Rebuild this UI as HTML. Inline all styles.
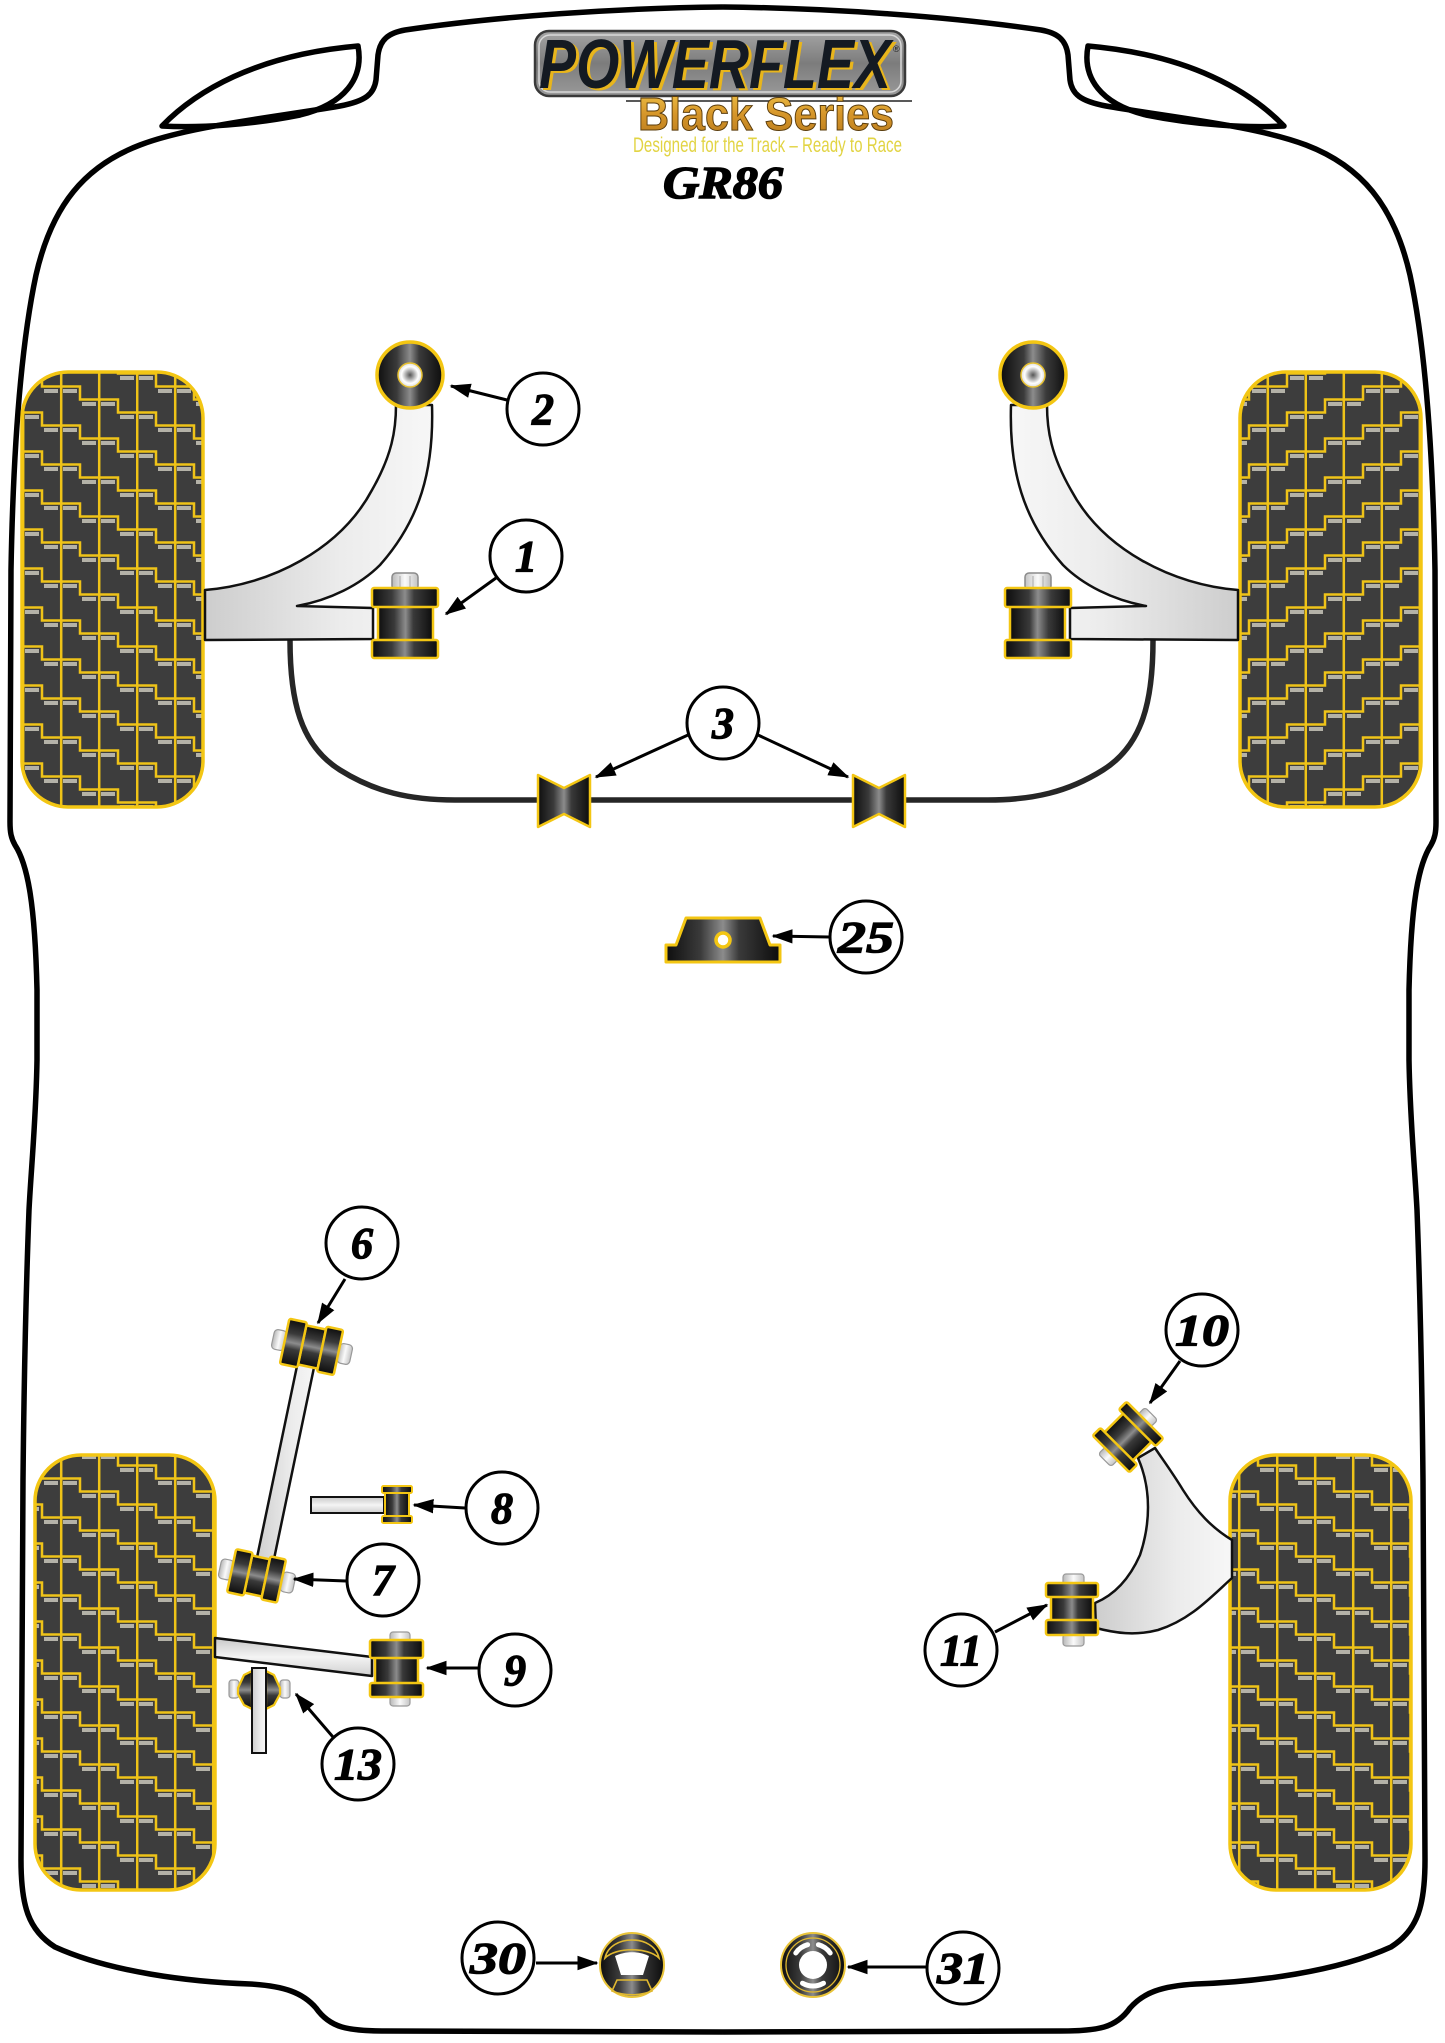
<!DOCTYPE html>
<html><head><meta charset="utf-8"><style>
html,body{margin:0;padding:0;background:#fff;}
svg{display:block;}
.n{font-family:"Liberation Serif",serif;font-weight:bold;font-style:italic;font-size:44px;text-anchor:middle;fill:#000;stroke:#000;stroke-width:1.2;}
</style></head><body>
<svg width="1445" height="2043" viewBox="0 0 1445 2043" xmlns="http://www.w3.org/2000/svg">
<defs>
<pattern id="tread" width="114" height="39" patternUnits="userSpaceOnUse" x="22" y="372">
<rect width="114" height="39" fill="#3d3d3d"/>
<g fill="#b4b2a8">
<rect x="3" y="4" width="14" height="4"/>
<rect x="22" y="17" width="14" height="4"/>
<rect x="41" y="17" width="14" height="4"/>
<rect x="60" y="30" width="14" height="4"/>
<rect x="79" y="30" width="14" height="4"/>
<rect x="98" y="4" width="14" height="4"/>
</g>
<path d="M1.2,0 V39 M39.2,0 V39 M77.2,0 V39 M0,1.5 H20 V14.5 H38 M38,14.5 H58 V27.5 H76 M76,27.5 H96 V39 M96,0 V1.5 H114" stroke="#efc318" stroke-width="2.5" fill="none"/>
</pattern>
<linearGradient id="rub" x1="0" y1="0" x2="1" y2="0">
<stop offset="0" stop-color="#0e0e0e"/><stop offset="0.3" stop-color="#3a3a3a"/><stop offset="0.5" stop-color="#8c8c8c"/><stop offset="0.64" stop-color="#3a3a3a"/><stop offset="1" stop-color="#0c0c0c"/>
</linearGradient>
<linearGradient id="rubV" x1="0" y1="0" x2="0" y2="1">
<stop offset="0" stop-color="#0e0e0e"/><stop offset="0.3" stop-color="#3a3a3a"/><stop offset="0.5" stop-color="#8c8c8c"/><stop offset="0.64" stop-color="#3a3a3a"/><stop offset="1" stop-color="#0c0c0c"/>
</linearGradient>
<linearGradient id="arm" x1="0" y1="0" x2="1" y2="0">
<stop offset="0" stop-color="#cdcdcd"/><stop offset="0.6" stop-color="#ececec"/><stop offset="1" stop-color="#f7f7f7"/>
</linearGradient>
<linearGradient id="armV" x1="0" y1="0" x2="0" y2="1">
<stop offset="0" stop-color="#c8c8c8"/><stop offset="0.5" stop-color="#f4f4f4"/><stop offset="1" stop-color="#cfcfcf"/>
</linearGradient>
<linearGradient id="bolt" x1="0" y1="0" x2="1" y2="0">
<stop offset="0" stop-color="#b8b8b8"/><stop offset="0.5" stop-color="#fafafa"/><stop offset="1" stop-color="#c4c4c4"/>
</linearGradient>
<radialGradient id="hole" cx="0.5" cy="0.5" r="0.5">
<stop offset="0" stop-color="#555"/><stop offset="0.35" stop-color="#aaa"/><stop offset="0.7" stop-color="#fff"/><stop offset="1" stop-color="#ddd"/>
</radialGradient>
<linearGradient id="logoG" x1="0" y1="0" x2="0" y2="1">
<stop offset="0" stop-color="#a5a5a5"/><stop offset="0.5" stop-color="#7c7c7c"/><stop offset="1" stop-color="#9a9a9a"/>
</linearGradient>
<linearGradient id="gold" x1="0" y1="0" x2="0" y2="1">
<stop offset="0" stop-color="#f2c64a"/><stop offset="0.5" stop-color="#d6962a"/><stop offset="1" stop-color="#b87a1c"/>
</linearGradient>
<marker id="ah" markerWidth="7" markerHeight="6" refX="6.5" refY="3" orient="auto" markerUnits="strokeWidth">
<path d="M0,0.6 L7,3 L0,5.4 Z" fill="#000"/>
</marker>
</defs>

<!-- body outline -->
<g fill="none" stroke="#000" stroke-width="5.5" stroke-linejoin="round">
<path d="M723,7 C620,8 500,16 405,30 C388,33 380,40 378,55 L376,80 C374,94 366,101 340,106 C270,118 190,126 140,145 C85,166 52,205 36,275 C20,350 13,460 11,570 L10,822 C10,832 11,838 15,845 C28,865 35,905 37,990 L37,1060 C36,1120 31,1170 29,1210 C26,1290 24,1380 23,1480 L21,1860 C21,1905 28,1930 55,1947 C110,1972 190,1982 250,1984 C285,1986 303,1993 316,2008 C330,2028 348,2031 385,2031 L723,2032"/>
<path d="M162,126 C195,92 255,55 358,46 C364,78 345,104 300,115 C250,125 200,128 162,126 Z"/>
<g transform="translate(1446,0) scale(-1,1)">
<path d="M723,7 C620,8 500,16 405,30 C388,33 380,40 378,55 L376,80 C374,94 366,101 340,106 C270,118 190,126 140,145 C85,166 52,205 36,275 C20,350 13,460 11,570 L10,822 C10,832 11,838 15,845 C28,865 35,905 37,990 L37,1060 C36,1120 31,1170 29,1210 C26,1290 24,1380 23,1480 L21,1860 C21,1905 28,1930 55,1947 C110,1972 190,1982 250,1984 C285,1986 303,1993 316,2008 C330,2028 348,2031 385,2031 L723,2032"/>
<path d="M162,126 C195,92 255,55 358,46 C364,78 345,104 300,115 C250,125 200,128 162,126 Z"/>
</g>
</g>

<!-- logo -->
<rect x="535" y="31" width="370" height="65" rx="14" fill="url(#logoG)" stroke="#3a3a3a" stroke-width="2.5"/>
<rect x="539" y="35" width="362" height="57" rx="11" fill="none" stroke="#d8d8d8" stroke-width="1.5"/>
<text x="542" y="90" font-family="Liberation Sans, sans-serif" font-weight="bold" font-style="italic" font-size="70" textLength="352" lengthAdjust="spacingAndGlyphs" fill="#e8b51c">POWERFLEX</text>
<text x="539" y="88" font-family="Liberation Sans, sans-serif" font-weight="bold" font-style="italic" font-size="70" textLength="352" lengthAdjust="spacingAndGlyphs" fill="#141a22">POWERFLEX</text>
<text x="893" y="52" font-family="Liberation Sans, sans-serif" font-size="9" fill="#222">®</text>
<line x1="626" y1="101" x2="912" y2="101" stroke="#222" stroke-width="1.5"/>
<text x="638" y="130" font-family="Liberation Sans, sans-serif" font-weight="bold" font-size="46" textLength="256" lengthAdjust="spacingAndGlyphs" fill="url(#gold)" stroke="#5a3c0c" stroke-width="1">Black Series</text>
<text x="633" y="152" font-family="Liberation Sans Narrow, Liberation Sans, sans-serif" font-size="21" textLength="269" lengthAdjust="spacingAndGlyphs" fill="#e2d444">Designed for the Track – Ready to Race</text>
<text x="663" y="198" font-family="Liberation Serif, serif" font-weight="bold" font-style="italic" font-size="46" textLength="120" lengthAdjust="spacingAndGlyphs" fill="#000" stroke="#000" stroke-width="1.5">GR86</text>

<!-- front sway bar -->
<path d="M290,640 C290,700 300,745 340,770 C375,792 410,800 455,800 L988,800 C1033,800 1068,792 1103,770 C1143,745 1153,700 1153,640" fill="none" stroke="#262626" stroke-width="5.5"/>
<path d="M538,775 L564,788 L590,775 L590,827 L564,814 L538,827 Z" fill="url(#rub)" stroke="#f3c613" stroke-width="2.5" stroke-linejoin="round"/>
<path d="M853,775 L879,788 L905,775 L905,827 L879,814 L853,827 Z" fill="url(#rub)" stroke="#f3c613" stroke-width="2.5" stroke-linejoin="round"/>

<!-- front left suspension -->
<g>
<rect x="22" y="372" width="181" height="435" rx="46" fill="url(#tread)" stroke="#f3c613" stroke-width="3.5"/>
<path d="M205,590 C270,585 340,550 372,490 C392,455 396,430 396,405 L432,405 C434,470 420,520 380,565 C360,585 330,600 297,606 L373,608 L373,639 L205,640 Z" fill="url(#arm)" stroke="#111" stroke-width="2.5" stroke-linejoin="round"/>
<circle cx="410" cy="375" r="33" fill="url(#rub)" stroke="#f3c613" stroke-width="3.5"/>
<circle cx="410" cy="375" r="12" fill="url(#hole)" stroke="#e6c030" stroke-width="1.5"/>
<rect x="392" y="573" width="26" height="17" rx="4" fill="url(#bolt)" stroke="#8a8a8a" stroke-width="1.5"/>
<path d="M400,576 V589 M410,576 V589" stroke="#aaa" stroke-width="1"/>
<rect x="378" y="606" width="55" height="35" fill="url(#rub)" stroke="#f3c613" stroke-width="2.5"/>
<rect x="372" y="588" width="66" height="19" rx="2" fill="url(#rub)" stroke="#f3c613" stroke-width="2.5"/>
<rect x="372" y="640" width="66" height="18" rx="2" fill="url(#rub)" stroke="#f3c613" stroke-width="2.5"/>
</g>
<g transform="translate(1443,0) scale(-1,1)">
<rect x="22" y="372" width="181" height="435" rx="46" fill="url(#tread)" stroke="#f3c613" stroke-width="3.5"/>
<path d="M205,590 C270,585 340,550 372,490 C392,455 396,430 396,405 L432,405 C434,470 420,520 380,565 C360,585 330,600 297,606 L373,608 L373,639 L205,640 Z" fill="url(#arm)" stroke="#111" stroke-width="2.5" stroke-linejoin="round"/>
<circle cx="410" cy="375" r="33" fill="url(#rub)" stroke="#f3c613" stroke-width="3.5"/>
<circle cx="410" cy="375" r="12" fill="url(#hole)" stroke="#e6c030" stroke-width="1.5"/>
<rect x="392" y="573" width="26" height="17" rx="4" fill="url(#bolt)" stroke="#8a8a8a" stroke-width="1.5"/>
<path d="M400,576 V589 M410,576 V589" stroke="#aaa" stroke-width="1"/>
<rect x="378" y="606" width="55" height="35" fill="url(#rub)" stroke="#f3c613" stroke-width="2.5"/>
<rect x="372" y="588" width="66" height="19" rx="2" fill="url(#rub)" stroke="#f3c613" stroke-width="2.5"/>
<rect x="372" y="640" width="66" height="18" rx="2" fill="url(#rub)" stroke="#f3c613" stroke-width="2.5"/>
</g>

<!-- bush 25 -->
<path d="M686,918 L760,918 L770,945 L780,945 L780,962 L666,962 L666,945 L676,945 Z" fill="url(#rub)" stroke="#f3c613" stroke-width="3" stroke-linejoin="round"/>
<circle cx="723" cy="940" r="7" fill="#fff" stroke="#f3c613" stroke-width="3.5"/>

<!-- rear wheels -->
<rect x="35" y="1455" width="180" height="435" rx="46" fill="url(#tread)" stroke="#f3c613" stroke-width="3.5"/>
<rect x="1230" y="1455" width="181" height="435" rx="46" fill="url(#tread)" stroke="#f3c613" stroke-width="3.5"/>

<!-- rod 8 -->
<rect x="311" y="1497" width="73" height="16" fill="url(#armV)" stroke="#111" stroke-width="2"/>
<rect x="385" y="1492" width="24" height="25" fill="url(#rub)" stroke="#f3c613" stroke-width="2"/>
<rect x="382" y="1486" width="30" height="7" rx="1.5" fill="url(#rub)" stroke="#f3c613" stroke-width="2"/>
<rect x="382" y="1516" width="30" height="7" rx="1.5" fill="url(#rub)" stroke="#f3c613" stroke-width="2"/>

<!-- rod 9 -->
<path d="M215,1638 L372,1657 L372,1676 L215,1657 Z" fill="url(#armV)" stroke="#111" stroke-width="2.5" stroke-linejoin="round"/>
<rect x="390" y="1632" width="20" height="10" rx="3" fill="url(#bolt)" stroke="#999" stroke-width="1.2"/>
<rect x="390" y="1696" width="20" height="10" rx="3" fill="url(#bolt)" stroke="#999" stroke-width="1.2"/>
<rect x="375" y="1657" width="43" height="27" fill="url(#rub)" stroke="#f3c613" stroke-width="2.5"/>
<rect x="370" y="1640" width="53" height="18" rx="2" fill="url(#rub)" stroke="#f3c613" stroke-width="2.5"/>
<rect x="370" y="1683" width="53" height="14" rx="2" fill="url(#rub)" stroke="#f3c613" stroke-width="2.5"/>

<!-- bush 13 -->
<rect x="229" y="1680" width="10" height="18" rx="3" fill="url(#bolt)" stroke="#999" stroke-width="1.2"/>
<rect x="280" y="1680" width="10" height="18" rx="3" fill="url(#bolt)" stroke="#999" stroke-width="1.2"/>
<path d="M252,1671 L244,1675 L238,1688 L238,1694 L244,1705 L252,1709 Z" fill="url(#rubV)" stroke="#f3c613" stroke-width="2.2" stroke-linejoin="round"/>
<path d="M266,1671 L274,1675 L280,1688 L280,1694 L274,1705 L266,1709 Z" fill="url(#rubV)" stroke="#f3c613" stroke-width="2.2" stroke-linejoin="round"/>
<rect x="252" y="1668" width="14" height="85" fill="url(#arm)" stroke="#111" stroke-width="2"/>

<!-- link rod 6-7 -->
<path d="M300.7,1348.3 L317.3,1351.7 L270.3,1576.7 L253.7,1573.3 Z" fill="url(#arm)" stroke="#111" stroke-width="2.5" stroke-linejoin="round"/>
<g transform="translate(312,1347) rotate(12)">
<rect x="-40" y="-10" width="13" height="20" rx="4" fill="url(#bolt)" stroke="#999" stroke-width="1.2"/>
<rect x="27" y="-10" width="13" height="20" rx="4" fill="url(#bolt)" stroke="#999" stroke-width="1.2"/>
<rect x="-10" y="-20" width="20" height="40" fill="url(#rubV)" stroke="#f3c613" stroke-width="2.5"/>
<rect x="-28" y="-23" width="18" height="46" rx="2" fill="url(#rubV)" stroke="#f3c613" stroke-width="2.5"/>
<rect x="10" y="-23" width="17" height="46" rx="2" fill="url(#rubV)" stroke="#f3c613" stroke-width="2.5"/>
</g>
<g transform="translate(257,1576) rotate(12)">
<rect x="-38" y="-10" width="13" height="20" rx="4" fill="url(#bolt)" stroke="#999" stroke-width="1.2"/>
<rect x="25" y="-10" width="13" height="20" rx="4" fill="url(#bolt)" stroke="#999" stroke-width="1.2"/>
<rect x="-9" y="-19" width="18" height="38" fill="url(#rubV)" stroke="#f3c613" stroke-width="2.5"/>
<rect x="-26" y="-22" width="17" height="44" rx="2" fill="url(#rubV)" stroke="#f3c613" stroke-width="2.5"/>
<rect x="9" y="-22" width="16" height="44" rx="2" fill="url(#rubV)" stroke="#f3c613" stroke-width="2.5"/>
</g>

<!-- rear right arm -->
<path d="M1138,1458 C1152,1490 1150,1525 1140,1555 C1128,1582 1112,1596 1095,1603 L1096,1628 C1115,1633 1135,1636 1158,1630 C1190,1620 1210,1598 1232,1578 L1232,1540 C1212,1528 1197,1512 1183,1490 C1172,1472 1163,1460 1155,1448 Z" fill="url(#arm)" stroke="#111" stroke-width="2.5" stroke-linejoin="round"/>
<g transform="translate(1128,1437) rotate(45)">
<rect x="-9" y="-33" width="18" height="10" rx="3" fill="url(#bolt)" stroke="#999" stroke-width="1.2"/>
<rect x="-9" y="23" width="18" height="10" rx="3" fill="url(#bolt)" stroke="#999" stroke-width="1.2"/>
<rect x="-20" y="-14" width="40" height="28" fill="url(#rub)" stroke="#f3c613" stroke-width="2.5"/>
<rect x="-26" y="-24" width="52" height="11" rx="2" fill="url(#rub)" stroke="#f3c613" stroke-width="2.5"/>
<rect x="-26" y="13" width="52" height="11" rx="2" fill="url(#rub)" stroke="#f3c613" stroke-width="2.5"/>
</g>
<rect x="1063" y="1574" width="21" height="11" rx="3" fill="url(#bolt)" stroke="#999" stroke-width="1.2"/>
<rect x="1063" y="1634" width="21" height="12" rx="3" fill="url(#bolt)" stroke="#999" stroke-width="1.2"/>
<rect x="1051" y="1596" width="42" height="25" fill="url(#rub)" stroke="#f3c613" stroke-width="2.5"/>
<rect x="1046" y="1583" width="52" height="14" rx="2" fill="url(#rub)" stroke="#f3c613" stroke-width="2.5"/>
<rect x="1046" y="1620" width="52" height="15" rx="2" fill="url(#rub)" stroke="#f3c613" stroke-width="2.5"/>

<!-- bushes 30 / 31 -->
<circle cx="632" cy="1965" r="32" fill="url(#rub)" stroke="#e9c43a" stroke-width="2"/>
<path d="M605,1958 C610,1934 654,1934 659,1958 C648,1947 616,1947 605,1958 Z" fill="none" stroke="#e0b830" stroke-width="1.6"/>
<path d="M615,1956 C625,1951 639,1951 649,1956 L643,1975 L621,1975 Z" fill="#fff"/>
<path d="M617,1980 L647,1980 L652,1991 C640,1996 624,1996 612,1991 Z" fill="none" stroke="#e0b830" stroke-width="1.6"/>
<circle cx="813" cy="1965" r="32" fill="url(#rub)" stroke="#e9c43a" stroke-width="2"/>
<circle cx="813" cy="1965" r="27" fill="none" stroke="#e0b830" stroke-width="1.3"/>
<circle cx="813" cy="1965" r="14" fill="#fff"/>
<path d="M795.8,1953 A21,21 0 0 1 807.6,1944.7 M818.4,1944.7 A21,21 0 0 1 830.2,1953 M823.5,1983.2 A21,21 0 0 1 802.5,1983.2" fill="none" stroke="#fff" stroke-width="5" stroke-linecap="round"/>

<!-- arrows -->
<g stroke="#000" stroke-width="3" fill="none" marker-end="url(#ah)">
<line x1="507" y1="400" x2="451" y2="386"/>
<line x1="496" y1="578" x2="446" y2="614"/>
<line x1="688" y1="735" x2="596" y2="777"/>
<line x1="758" y1="735" x2="848" y2="777"/>
<line x1="829" y1="937" x2="773" y2="936"/>
<line x1="345" y1="1279" x2="318" y2="1323"/>
<line x1="465" y1="1508" x2="414" y2="1505"/>
<line x1="346" y1="1581" x2="294" y2="1579"/>
<line x1="478" y1="1668" x2="427" y2="1668"/>
<line x1="333" y1="1737" x2="296" y2="1694"/>
<line x1="1180" y1="1361" x2="1150" y2="1403"/>
<line x1="995" y1="1632" x2="1047" y2="1605"/>
<line x1="536" y1="1963" x2="597" y2="1963"/>
<line x1="926" y1="1967" x2="848" y2="1967"/>
</g>

<!-- callouts -->
<g fill="#fff" stroke="#000" stroke-width="3">
<circle cx="543" cy="409" r="36"/>
<circle cx="526" cy="556" r="36"/>
<circle cx="723" cy="723" r="36"/>
<circle cx="866" cy="937" r="36"/>
<circle cx="362" cy="1243" r="36"/>
<circle cx="502" cy="1508" r="36"/>
<circle cx="383" cy="1580" r="36"/>
<circle cx="515" cy="1670" r="36"/>
<circle cx="358" cy="1764" r="36"/>
<circle cx="1202" cy="1330" r="36"/>
<circle cx="961" cy="1650" r="36"/>
<circle cx="498" cy="1958" r="36"/>
<circle cx="963" cy="1968" r="36"/>
</g>
<text class="n" x="543" y="424">2</text>
<text class="n" x="526" y="571">1</text>
<text class="n" x="723" y="738">3</text>
<text class="n" x="866" y="952" textLength="56" lengthAdjust="spacingAndGlyphs">25</text>
<text class="n" x="362" y="1258">6</text>
<text class="n" x="502" y="1523">8</text>
<text class="n" x="383" y="1595">7</text>
<text class="n" x="515" y="1685">9</text>
<text class="n" x="358" y="1779" textLength="48" lengthAdjust="spacingAndGlyphs">13</text>
<text class="n" x="1202" y="1345" textLength="54" lengthAdjust="spacingAndGlyphs">10</text>
<text class="n" x="961" y="1665" textLength="42" lengthAdjust="spacingAndGlyphs">11</text>
<text class="n" x="498" y="1973" textLength="56" lengthAdjust="spacingAndGlyphs">30</text>
<text class="n" x="963" y="1983" textLength="52" lengthAdjust="spacingAndGlyphs">31</text>
</svg>
</body></html>
